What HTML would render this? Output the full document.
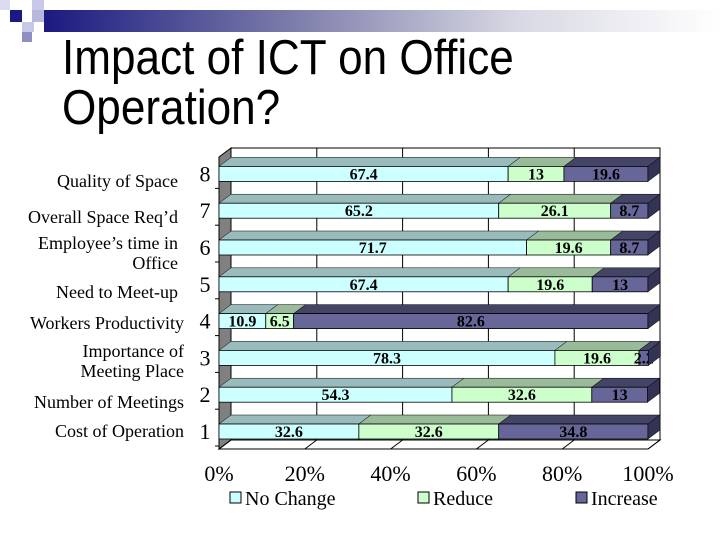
<!DOCTYPE html>
<html><head><meta charset="utf-8"><style>
body{margin:0;background:#fff;}
#wrap{position:relative;width:720px;height:540px;overflow:hidden;background:#fff;}
.sq{position:absolute;}
#title{position:absolute;left:62px;top:33px;font-family:"Liberation Sans",sans-serif;font-size:49px;line-height:50px;color:#000;transform:scaleX(0.9);transform-origin:left top;white-space:nowrap;}
.cat{position:absolute;right:542px;font-family:"Liberation Serif",serif;font-size:18px;line-height:20px;text-align:right;color:#000;white-space:nowrap;}
</style></head><body>
<div id="wrap">
<div class="sq" style="left:0;top:0;width:10px;height:10px;background:#dcdcf0"></div>
<div class="sq" style="left:32px;top:0;width:12px;height:10px;background:#c8c8e8"></div>
<div class="sq" style="left:10px;top:10px;width:12px;height:12px;background:#1a1a80"></div>
<div class="sq" style="left:32px;top:10px;width:12px;height:12px;background:#b8b8dc"></div>
<div class="sq" style="left:22px;top:22px;width:12px;height:10px;background:#c8c8e8"></div>
<div class="sq" style="left:22px;top:32px;width:10px;height:10px;background:#9090c0"></div>
<div class="sq" style="left:44px;top:10px;width:676px;height:22px;background:linear-gradient(to right,#1a1a80,#7878a8 35%,#d8d8e4 70%,#ffffff)"></div>
<div id="title">Impact of ICT on Office<br>Operation?</div>

<div class="cat" style="top:171px">Quality of Space</div>
<div class="cat" style="top:207px">Overall Space Req’d</div>
<div class="cat" style="top:233px">Employee’s time in<br>Office</div>
<div class="cat" style="top:282px">Need to Meet-up</div>
<div class="cat" style="top:313px;right:536px">Workers Productivity</div>
<div class="cat" style="top:341px;right:536px">Importance of<br>Meeting Place</div>
<div class="cat" style="top:392px;right:536px">Number of Meetings</div>
<div class="cat" style="top:421px;right:536px">Cost of Operation</div>

<svg id="chart" width="720" height="540" style="position:absolute;left:0;top:0"></svg>
</div>
<script>
const categories=["1","2","3","4","5","6","7","8"];
const noChange=[32.6,54.3,78.3,10.9,67.4,71.7,65.2,67.4];
const reduce=[32.6,32.6,19.6,6.5,19.6,19.6,26.1,13];
const increase=[34.8,13,2.2,82.6,13,8.7,8.7,19.6];
const xTicks=["0%","20%","40%","60%","80%","100%"];
const seriesNames=["No Change","Reduce","Increase"];

const NS="http://www.w3.org/2000/svg";
const svg=document.getElementById('chart');
const X0=219,X1=648,DX=12,DY=9,FLOOR=449;
const BAR1TOP=424,STEP=36.8,BH=15;
const fills=["#ccffff","#ccffcc","#666699"];
const tops=["#99bbbb","#99bb99","#444466"];
const sides=["#88aaaa","#88aa88","#333355"];
function xs(v){return X0+(X1-X0)*v/100;}
function yTop(i){return BAR1TOP-i*STEP;}
function el(t,a){const e=document.createElementNS(NS,t);for(const k in a)e.setAttribute(k,a[k]);svg.appendChild(e);return e;}

const wallTop=148;
let e=el('rect',{x:X0+DX,y:wallTop,width:X1-X0,height:FLOOR-DY-wallTop,fill:'#fff',stroke:'#000','stroke-width':1});

e=el('polygon',{points:`${X0},${wallTop+DY} ${X0+DX},${wallTop} ${X0+DX},${FLOOR-DY} ${X0},${FLOOR}`,fill:'#808080',stroke:'#000','stroke-width':1});

for(let k=1;k<xTicks.length-1;k++){
  const gx=xs(k*20)+DX;
  e=el('line',{x1:gx,y1:wallTop,x2:gx,y2:FLOOR-DY,stroke:'#000','stroke-width':1});
  
}
e=el('polygon',{points:`${X0},${FLOOR} ${X0+DX},${FLOOR-DY} ${X1+DX},${FLOOR-DY} ${X1},${FLOOR}`,fill:'#fff',stroke:'#000','stroke-width':1});

xTicks.forEach((t,k)=>{
  const tx=xs(k*20);
  let l=el('line',{x1:tx,y1:FLOOR,x2:tx+DX,y2:FLOOR-DY,stroke:'#000','stroke-width':1});
  
  let tt=el('text',{x:tx,y:481,'text-anchor':'middle','font-family':'Liberation Serif, serif','font-size':22});
  tt.textContent=t;
  
});
e=el('line',{x1:X0,y1:wallTop+DY,x2:X0,y2:FLOOR,stroke:'#000','stroke-width':1});


categories.forEach((c,i)=>{
  const yt=yTop(i);
  const t=el('text',{x:205,y:yt+15,'text-anchor':'middle','font-family':'Liberation Serif, serif','font-size':22});
  t.textContent=c;
  
  const tk=el('line',{x1:X0-4,y1:yt+BH+7,x2:X0,y2:yt+BH+7,stroke:'#000'});
  
  const vals=[noChange[i],reduce[i],increase[i]];
  let acc=0;
  vals.forEach((v,s)=>{
    const xa=xs(acc),xb=xs(acc+v);acc+=v;
    const tp=el('polygon',{points:`${xa},${yt} ${xa+DX},${yt-DY} ${xb+DX},${yt-DY} ${xb},${yt}`,fill:tops[s],stroke:'#000','stroke-width':0.5});
    
    const r=el('rect',{x:xa,y:yt,width:xb-xa,height:BH,fill:fills[s],stroke:'#000','stroke-width':0.8});
    
    const lb=el('text',{x:(xa+xb)/2,y:yt+13,'text-anchor':'middle','font-family':'Liberation Serif, serif','font-size':16,'font-weight':'bold',fill:'#000'});
    lb.textContent=String(v);
    
  });
  const xe=xs(acc);
  const sd=el('polygon',{points:`${xe},${yt} ${xe+DX},${yt-DY} ${xe+DX},${yt+BH-DY} ${xe},${yt+BH}`,fill:sides[2],stroke:'#000','stroke-width':0.5});
  
});

const lx=[230,418,576];
seriesNames.forEach((n,s)=>{
  const r=el('rect',{x:lx[s],y:492,width:11,height:11,fill:fills[s],stroke:'#000','stroke-width':1});
  
  const t=el('text',{x:lx[s]+15,y:505,'font-family':'Liberation Serif, serif','font-size':20});
  t.textContent=n;
  
});
</script>
</body></html>
